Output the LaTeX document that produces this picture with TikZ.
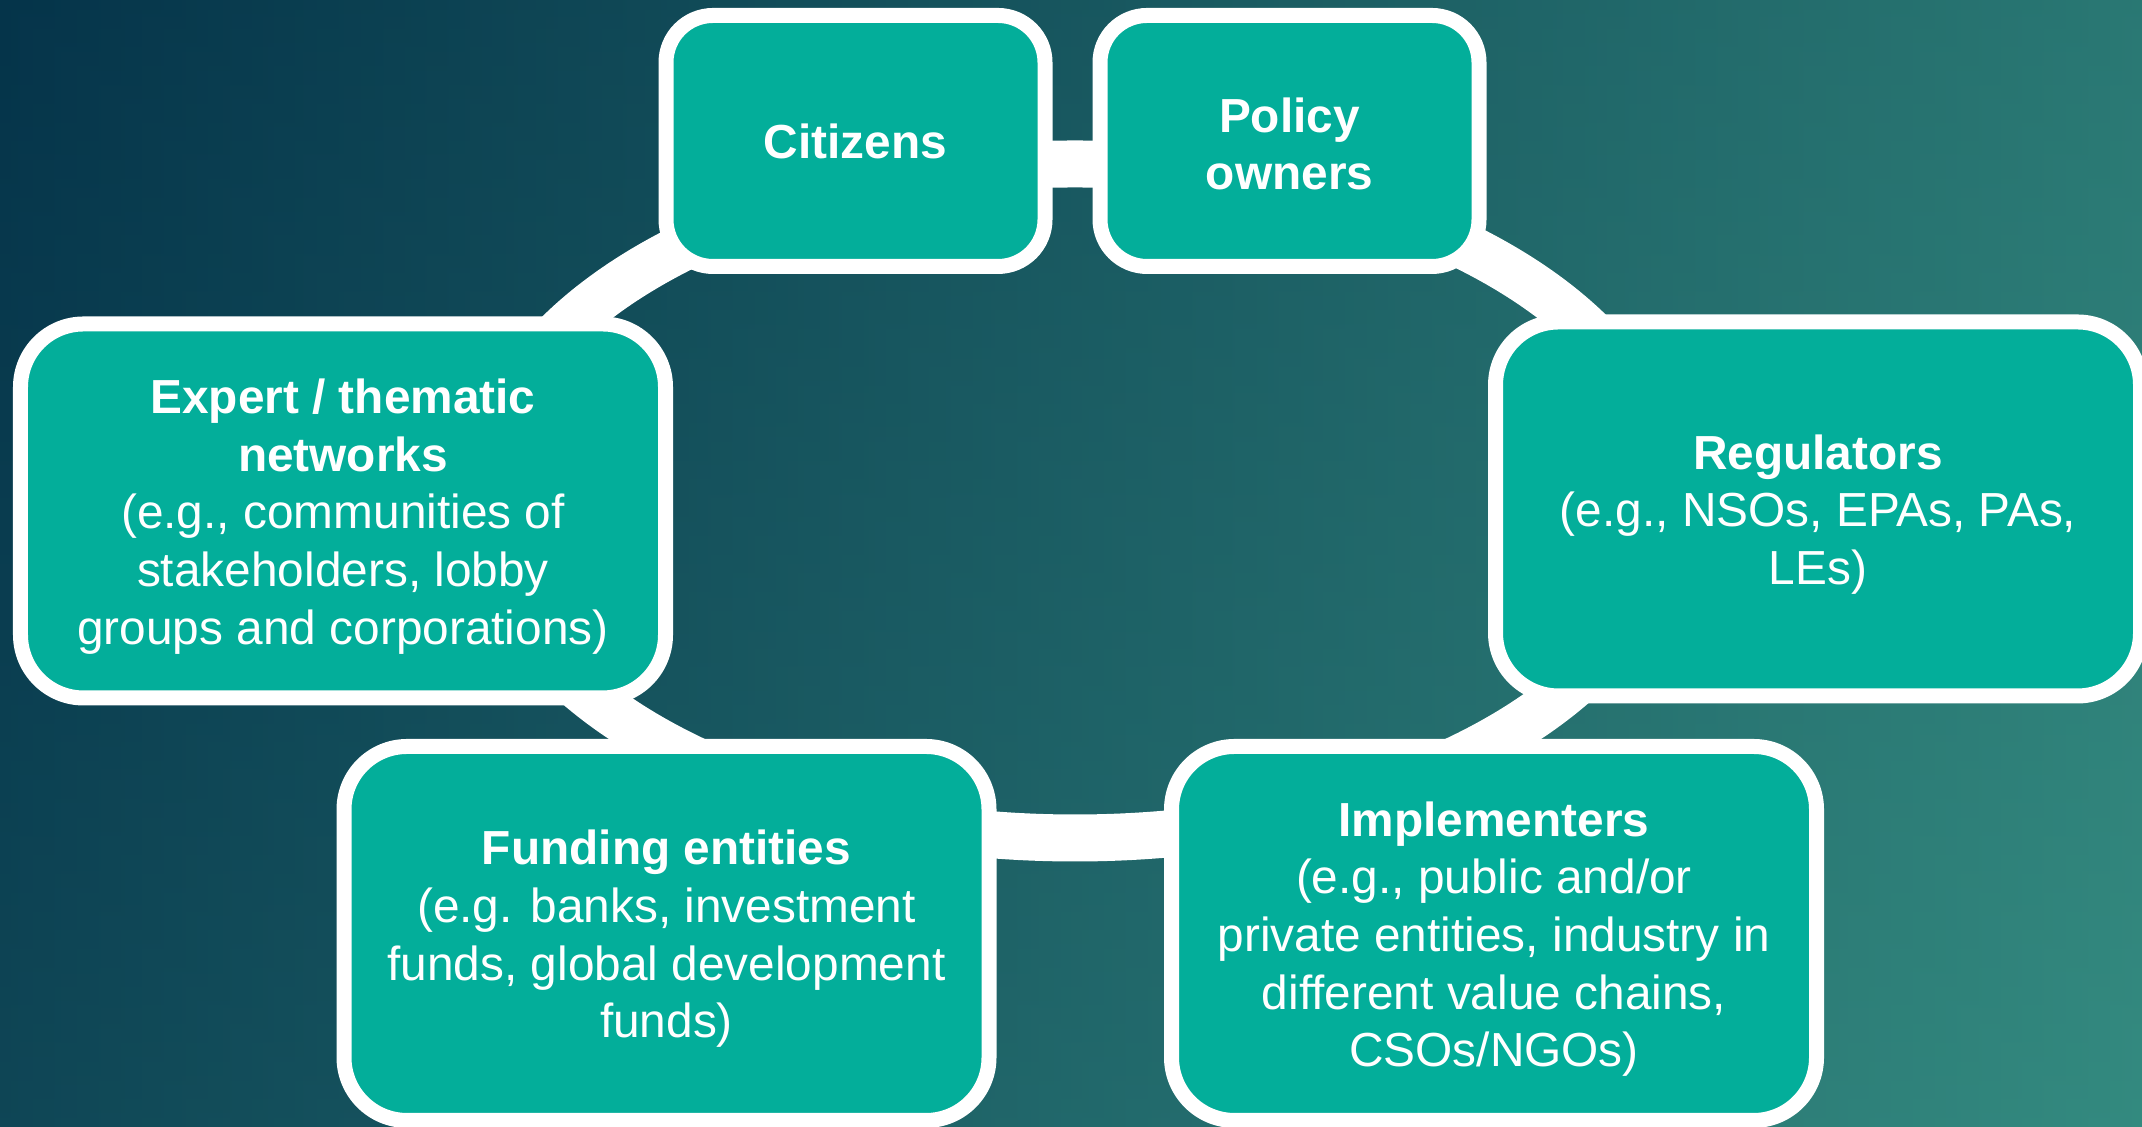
\documentclass[tikz,border=0pt]{standalone}
\usepackage{fontspec}
\setmainfont{Liberation Sans}
\usetikzlibrary{shapes.geometric}
\definecolor{bgleft}{RGB}{5,52,74}
\definecolor{bgmid}{RGB}{26,94,99}
\definecolor{bgright}{RGB}{58,150,134}
\definecolor{bgtop}{RGB}{5,52,74}
\definecolor{bgbottom}{RGB}{38,112,114}
\definecolor{boxteal}{RGB}{3,174,154}
\newcommand{\strutup}{\rule{0pt}{13pt}}
\tikzset{
  actor/.style={draw=white, line width=1.5mm, fill=boxteal, text=white, align=center,
    rounded corners=6.3mm, minimum width=6.45cm, minimum height=3.74cm, inner sep=0pt,
    font=\fontsize{13.6}{16.4}\selectfont},
  smallbox/.style={rounded corners=4.7mm, minimum width=3.79cm, minimum height=2.51cm}
}

\begin{document}
\begin{tikzpicture}
\useasboundingbox (0,0) rectangle (21.42,11.27);
\clip (0,0) rectangle (21.42,11.27);
\shade[left color=bgleft, middle color=bgmid, right color=bgright] (0,0) rectangle (21.42,11.27);
\shade[top color=bgtop, bottom color=bgbottom, opacity=0.3] (0,0) rectangle (21.42,11.27);
% ring behind the boxes
\node[ellipse, draw=white, line width=4.7mm, inner sep=0pt,
  minimum width=11.9cm, minimum height=6.74cm] (ring) at (10.75,6.26) {};
\node[actor, smallbox] (citizens) at (8.555,9.86) {\textbf{Citizens}};
\node[actor, smallbox] (policy) at (12.895,9.86) {\rule{0pt}{11.5pt}\textbf{Policy}\\\textbf{owners}};
\node[actor] (regulators) at (18.18,6.18) {\strutup\textbf{Regulators}\\(e.g., NSOs, EPAs, PAs,\\LEs)};
\node[actor] (implementers) at (14.94,1.935) {\strutup\textbf{Implementers}\\(e.g., public and/or\\private entities, industry in\\different value chains,\\CSOs/NGOs)};
\node[actor] (funding) at (6.665,1.935) {\strutup\textbf{Funding entities}\\(e.g. banks, investment\\funds, global development\\funds)};
\node[actor] (expert) at (3.43,6.16) {\strutup\textbf{Expert / thematic}\\\textbf{networks}\\(e.g., communities of\\stakeholders, lobby\\groups and corporations)};
\end{tikzpicture}
\end{document}
